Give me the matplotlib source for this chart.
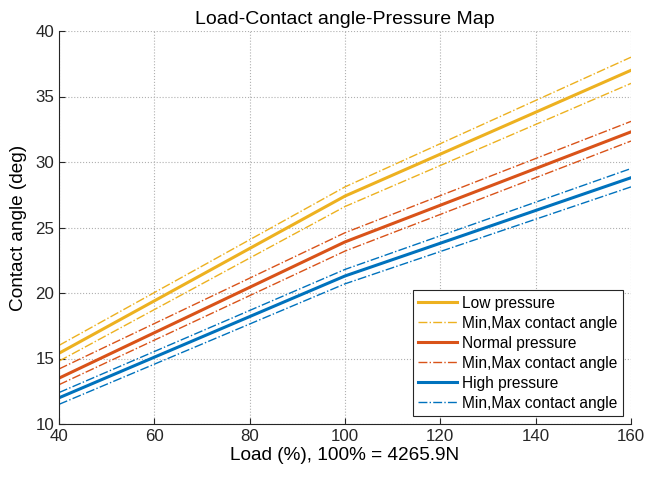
import matplotlib
matplotlib.use("Agg")
import matplotlib.pyplot as plt

plt.rcParams['font.family'] = ['Liberation Sans', 'DejaVu Sans']

# load in % of 4265.9N
load = [40, 100, 160]

low = [15.4, 27.4, 37.0]
low_max = [16.0, 28.1, 38.0]
low_min = [14.8, 26.6, 36.0]

normal = [13.5, 23.9, 32.3]
normal_max = [14.2, 24.6, 33.1]
normal_min = [13.0, 23.2, 31.6]

high = [12.0, 21.3, 28.8]
high_max = [12.4, 21.8, 29.5]
high_min = [11.5, 20.7, 28.1]

c_low = '#EDB120'
c_norm = '#D95319'
c_high = '#0072BD'

fig = plt.figure(figsize=(6.45, 4.79), dpi=100)
ax = fig.add_axes([59 / 645, 1 - 424 / 479, 572 / 645, 393 / 479])

ax.plot(load, low, color=c_low, lw=2.2, label='Low pressure')
ax.plot(load, low_max, color=c_low, lw=1.0, ls='-.', label='Min,Max contact angle')
ax.plot(load, low_min, color=c_low, lw=1.0, ls='-.')
ax.plot(load, normal, color=c_norm, lw=2.2, label='Normal pressure')
ax.plot(load, normal_max, color=c_norm, lw=1.0, ls='-.', label='Min,Max contact angle')
ax.plot(load, normal_min, color=c_norm, lw=1.0, ls='-.')
ax.plot(load, high, color=c_high, lw=2.2, label='High pressure')
ax.plot(load, high_max, color=c_high, lw=1.0, ls='-.', label='Min,Max contact angle')
ax.plot(load, high_min, color=c_high, lw=1.0, ls='-.')

ax.set_xlim(40, 160)
ax.set_ylim(10, 40)
ax.set_xticks(range(40, 161, 20))
ax.set_yticks(range(10, 41, 5))
ax.grid(True, ls=':', color='#b0b0b0', lw=0.8)
ax.tick_params(direction='in', labelsize=12.2, length=4,
               color='#262626', labelcolor='#262626')
# box off, like the matlab figure
ax.spines['top'].set_visible(False)
ax.spines['right'].set_visible(False)
for s in ('left', 'bottom'):
    ax.spines[s].set_color('#262626')
    ax.spines[s].set_linewidth(0.8)

ax.set_title('Load-Contact angle-Pressure Map', fontsize=14, pad=5)
ax.set_xlabel('Load (%), 100% = 4265.9N', fontsize=13.7, labelpad=2)
ax.set_ylabel('Contact angle (deg)', fontsize=13.7, labelpad=6)

leg = ax.legend(loc='lower right', fontsize=11.2, fancybox=False, framealpha=1,
                edgecolor='#262626', handlelength=2.5, borderaxespad=0.5,
                labelspacing=0.32, handletextpad=0.35, borderpad=0.35)
leg.get_frame().set_linewidth(0.8)

fig.savefig('out.png', dpi=100)
